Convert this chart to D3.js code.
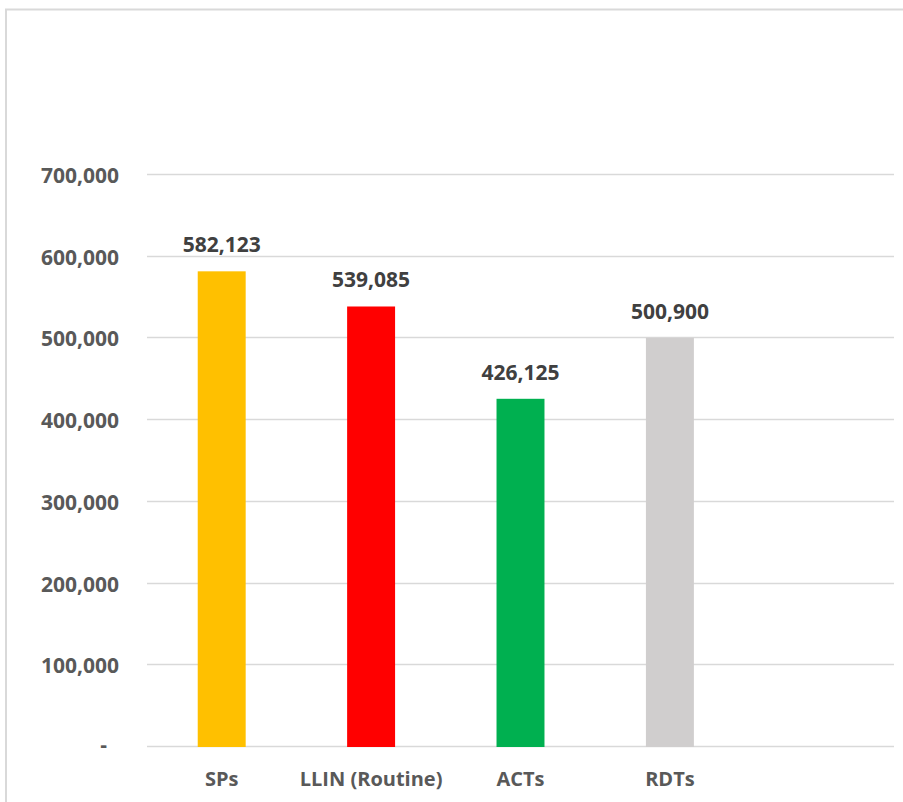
<!DOCTYPE html>
<html>
<head>
<meta charset="utf-8">
<script src="https://cdn.jsdelivr.net/npm/d3@7"></script>
<style>
  html, body { margin: 0; padding: 0; background: #fff; }
  svg { display: block; }
  text { font-family: "Open Sans", "Noto Sans", sans-serif; font-weight: 700; }
</style>
</head>
<body>
<svg id="chart" width="903" height="802"></svg>
<script>
// Commodities distributed
const categories = ["SPs", "LLIN (Routine)", "ACTs", "RDTs", ""];
const values = [582123, 539085, 426125, 500900, null];
const barColors = ["#FFC000", "#FF0000", "#00B050", "#D0CECE", "none"];
const yTicks = [0, 100000, 200000, 300000, 400000, 500000, 600000, 700000];

const svg = d3.select("#chart");
const W = 903, H = 802;

// outer chart frame
svg.append("rect")
  .attr("x", 6).attr("y", 9.5)
  .attr("width", W + 10).attr("height", H + 10)
  .attr("fill", "none").attr("stroke", "#d9d9d9").attr("stroke-width", 2);

const plot = { left: 147, right: 894, top: 175, bottom: 747 };

const x = d3.scaleBand()
  .domain(categories.map((c, i) => i))
  .range([plot.left, plot.right])
  .paddingInner(0.679).paddingOuter(0.3395);

const y = d3.scaleLinear()
  .domain([0, 700000])
  .range([plot.bottom, plot.top]);

const fmt = d3.format(",");

// gridlines
svg.append("g")
  .selectAll("line")
  .data(yTicks)
  .join("line")
  .attr("x1", plot.left).attr("x2", plot.right)
  .attr("y1", d => Math.round(y(d)) - 0.5).attr("y2", d => Math.round(y(d)) - 0.5)
  .attr("stroke", "#d9d9d9").attr("stroke-width", 1.5);

// y axis labels
const yAxis = d3.axisLeft(y)
  .tickValues(yTicks)
  .tickSize(0)
  .tickPadding(0)
  .tickFormat(d => d === 0 ? "-" : fmt(d));

const gy = svg.append("g")
  .attr("transform", "translate(119,0)")
  .call(yAxis);
gy.select(".domain").remove();
gy.selectAll("text")
  .attr("fill", "#595959")
  .attr("font-size", 21)
  .attr("dy", d => d === 0 ? "0.2em" : "0.36em")
  .attr("dx", d => d === 0 ? -12 : 0);

// bars
const data = categories.map((c, i) => ({ i, c, v: values[i], color: barColors[i] }))
  .filter(d => d.v != null);

svg.append("g")
  .selectAll("rect")
  .data(data)
  .join("rect")
  .attr("x", d => x(d.i))
  .attr("width", x.bandwidth())
  .attr("y", d => y(d.v))
  .attr("height", d => y(0) - y(d.v))
  .attr("fill", d => d.color);

// value labels
svg.append("g")
  .selectAll("text")
  .data(data)
  .join("text")
  .attr("x", d => x(d.i) + x.bandwidth() / 2)
  .attr("y", d => y(d.v) - 19)
  .attr("text-anchor", "middle")
  .attr("fill", "#404040")
  .attr("font-size", 21)
  .text(d => fmt(d.v));

// x axis labels
const xAxis = d3.axisBottom(x)
  .tickSize(0)
  .tickPadding(0)
  .tickFormat(i => categories[i]);

const gx = svg.append("g")
  .attr("transform", "translate(0,786)")
  .call(xAxis);
gx.select(".domain").remove();
gx.selectAll("text")
  .attr("fill", "#595959")
  .attr("font-size", 20)
  .attr("dy", 0);
</script>
</body>
</html>
